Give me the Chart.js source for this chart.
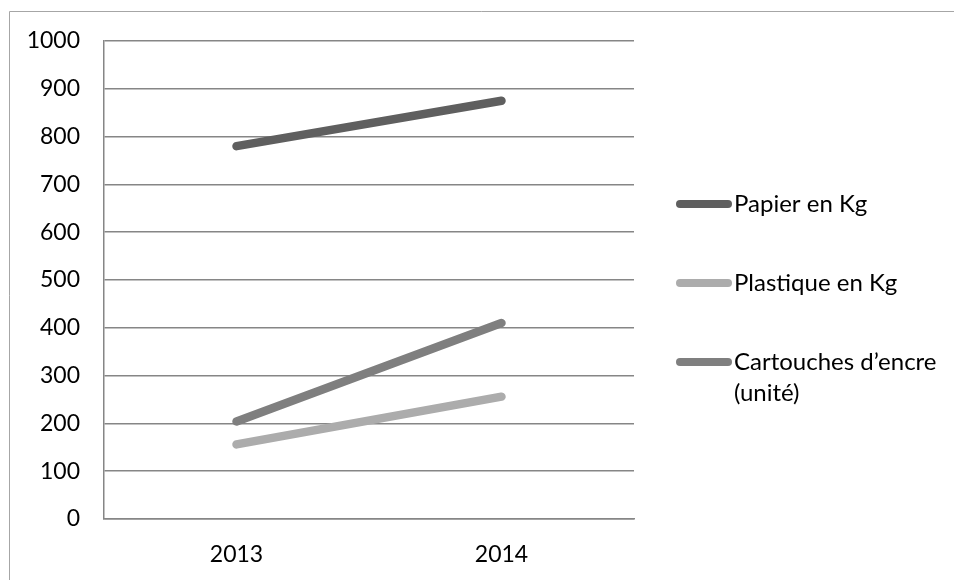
<!DOCTYPE html>
<html>
<head>
<meta charset="utf-8">
<script src="https://cdn.jsdelivr.net/npm/chart.js@4.4.1/dist/chart.umd.min.js"></script>
<style>
  html, body { margin: 0; padding: 0; background: #fff; }
  #wrap { width: 954px; height: 580px; position: relative; }
</style>
</head>
<body>
<div id="wrap"><canvas id="myChart" width="954" height="580"></canvas></div>
<script>
// donnees
const annees = ['2013', '2014'];
const papier = [780, 875];
const plastique = [156, 256];
const cartouches = [204, 410];
const nomsSeries = ['Papier en Kg', 'Plastique en Kg', 'Cartouches d\u2019encre (unité)'];
const couleurs = ['#5f5f5f', '#acacac', '#7f7f7f'];
const yTicks = [0, 100, 200, 300, 400, 500, 600, 700, 800, 900, 1000];

const police = 'Lato, "Open Sans", sans-serif';
const gris = '#868686';

// cadre gris en haut et a gauche
const cadre = {
    id: 'cadre',
    beforeDraw(chart) {
        const c = chart.ctx;
        c.save();
        c.strokeStyle = '#a6a6a6';
        c.lineWidth = 1;
        c.beginPath();
        c.moveTo(9.5, chart.height);
        c.lineTo(9.5, 11.5);
        c.lineTo(chart.width, 11.5);
        c.stroke();
        c.restore();
    }
};

// legende a droite, avec retour a la ligne
const legende = {
    id: 'legende',
    afterDraw(chart) {
        const c = chart.ctx;
        const x0 = chart.chartArea.right + 42;
        const xTexte = x0 + 58;
        const maxW = chart.width - xTexte - 4;
        let y = 204;
        c.save();
        c.font = '24px ' + police;
        c.textBaseline = 'middle';
        chart.data.datasets.forEach(ds => {
            c.strokeStyle = ds.borderColor;
            c.lineWidth = 8;
            c.lineCap = 'round';
            c.beginPath();
            c.moveTo(x0 + 4, y);
            c.lineTo(xTexte - 6, y);
            c.stroke();
            // decoupage en lignes
            const mots = ds.label.split(' ');
            const lignes = [];
            let cur = '';
            mots.forEach(m => {
                const essai = cur ? cur + ' ' + m : m;
                if (c.measureText(essai).width > maxW && cur) {
                    lignes.push(cur);
                    cur = m;
                } else {
                    cur = essai;
                }
            });
            lignes.push(cur);
            c.fillStyle = '#000';
            lignes.forEach((l, i) => c.fillText(l, xTexte, y + i * 31));
            y += 79;
        });
        c.restore();
    }
};

const ctx = document.getElementById('myChart');

const myChart = new Chart(ctx, {
    type: 'line',
    data: {
        labels: annees,
        datasets: [papier, plastique, cartouches].map((vals, i) => ({
            label: nomsSeries[i],
            data: vals,
            borderColor: couleurs[i],
            backgroundColor: couleurs[i],
            borderWidth: 8.5,
            borderCapStyle: 'round',
            pointRadius: 0,
            pointHoverRadius: 0,
            tension: 0,
            fill: false
        }))
    },
    options: {
        responsive: false,
        animation: false,
        layout: {
            padding: { left: 10, top: 41, right: 320, bottom: 0 }
        },
        plugins: {
            legend: { display: false },
            tooltip: { enabled: false }
        },
        scales: {
            x: {
                offset: true,
                grid: { display: false, drawTicks: false },
                border: { display: true, color: gris, width: 1.5 },
                ticks: {
                    color: '#000',
                    padding: 22,
                    font: { family: police, size: 23 }
                },
                afterFit(scale) { scale.height = 61; }
            },
            y: {
                min: 0,
                max: 1000,
                afterBuildTicks(scale) {
                    scale.ticks = yTicks.map(v => ({ value: v }));
                },
                grid: { color: gris, lineWidth: 1.5, drawTicks: false },
                border: { display: true, color: gris, width: 1.5 },
                ticks: {
                    color: '#000',
                    padding: 24,
                    font: { family: police, size: 23 },
                    callback: v => String(v)
                },
                afterFit(scale) { scale.width = 94; }
            }
        }
    },
    plugins: [cadre, legende]
});
</script>
</body>
</html>
